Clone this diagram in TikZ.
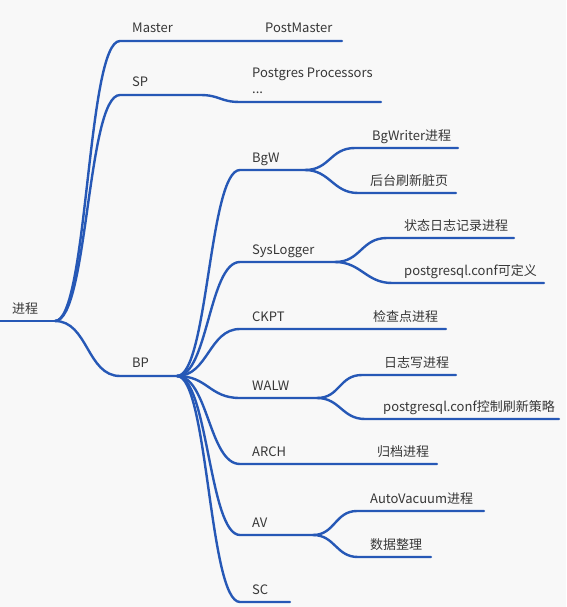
\documentclass[tikz,border=0pt]{standalone}
\usepackage{fontspec}
\setmainfont{Noto Sans CJK SC}
\usepackage{xcolor}
\usepackage{tikz}
\definecolor{cLine}{RGB}{38,88,182}
\definecolor{cText}{RGB}{55,55,55}
\definecolor{cBg}{RGB}{248,248,248}
\tikzset{
	edge/.style ={draw=cLine, line width=2.4pt, line cap=round},
	twig/.style ={out=0, in=180, distance=#1},
	twig/.default=31pt,
	lbl/.style  ={anchor=base west, inner sep=0pt, text=cText},
	lbl2/.style ={anchor=south west, inner sep=0pt, text=cText, align=left},
}

\begin{document}
\begin{tikzpicture}[x=1pt, y=-1pt, font=\fontsize{13}{15}\selectfont]
					\fill[cBg] (0,0) rectangle (566,607);
					\useasboundingbox (0,0) rectangle (566,607);
					% root
					\coordinate (r0) at (0,321);
					\coordinate (r) at (55,321);
					\node[lbl] (nRoot) at (12,313) {进程};
					% first level
					\coordinate (ma) at (120,41);  \coordinate (mb) at (250,41);  \coordinate (mc) at (342,41);
					\coordinate (sa) at (120,95);  \coordinate (sb) at (200,95);  \coordinate (sc) at (240,102); \coordinate (sd) at (381,102);
					\coordinate (ba) at (120,376); \coordinate (bp) at (177,376);
					\node[lbl] (nMaster) at (132,33) {Master};
					\node[lbl] (nPostMaster) at (265,33) {PostMaster};
					\node[lbl] (nSP) at (132,87) {SP};
					\node[lbl2] (nProc) at (252,94) {Postgres Processors\\[1pt]...};
					\node[lbl] (nBP) at (132,367) {BP};
					% second level
					\coordinate (bgA) at (240,170); \coordinate (bgB) at (305,170);
					\coordinate (slA) at (240,262); \coordinate (slB) at (335,262);
					\coordinate (ckA) at (240,329); \coordinate (ckB) at (350,329); \coordinate (ckC) at (446,329);
					\coordinate (waA) at (240,398); \coordinate (waB) at (317,398);
					\coordinate (arA) at (240,464); \coordinate (arB) at (350,464); \coordinate (arC) at (437,464);
					\coordinate (avA) at (240,535); \coordinate (avB) at (313,535);
					\coordinate (scA) at (240,602); \coordinate (scB) at (290,602);
					\node[lbl] (nBgW) at (252,162) {BgW};
					\node[lbl] (nSys) at (252,254) {SysLogger};
					\node[lbl] (nCKPT) at (252,321) {CKPT};
					\node[lbl] (nWALW) at (252,390) {WALW};
					\node[lbl] (nARCH) at (252,456) {ARCH};
					\node[lbl] (nAV) at (252,527) {AV};
					\node[lbl] (nSC) at (252,594) {SC};
					% third level
					\coordinate (bg1a) at (355,148); \coordinate (bg1b) at (458,148);
					\coordinate (bg2a) at (358,193); \coordinate (bg2b) at (456,193);
					\coordinate (sl1a) at (387,238); \coordinate (sl1b) at (514,238);
					\coordinate (sl2a) at (392,283); \coordinate (sl2b) at (544,283);
					\coordinate (wa1a) at (362,375); \coordinate (wa1b) at (456,375);
					\coordinate (wa2a) at (365,419); \coordinate (wa2b) at (559,419);
					\coordinate (av1a) at (357,511); \coordinate (av1b) at (484,511);
					\coordinate (av2a) at (358,557); \coordinate (av2b) at (431,557);
					\node[lbl] (nBg1) at (372,140) {BgWriter进程};
					\node[lbl] (nBg2) at (370,185) {后台刷新脏页};
					\node[lbl] (nSl1) at (404,230) {状态日志记录进程};
					\node[lbl] (nSl2) at (404,275) {postgresql.conf可定义};
					\node[lbl] (nCk1) at (373,321) {检查点进程};
					\node[lbl] (nWa1) at (384,367) {日志写进程};
					\node[lbl] (nWa2) at (383,411) {postgresql.conf控制刷新策略};
					\node[lbl] (nAr1) at (377,456) {归档进程};
					\node[lbl] (nAv1) at (370,503) {AutoVacuum进程};
					\node[lbl] (nAv2) at (370,549) {数据整理};
					% branches
					\draw[edge] (r0) -- (r);
					\draw[edge] (r) to[twig=33pt] (ma) -- (mb) -- (mc);
					\draw[edge] (r) to[twig=33pt] (sa) -- (sb) to[twig=20pt] (sc) -- (sd);
					\draw[edge] (r) to[twig=33pt] (ba) -- (bp);
					\draw[edge] (bp) to[twig] (bgA) -- (bgB);
					\draw[edge] (bp) to[twig] (slA) -- (slB);
					\draw[edge] (bp) to[twig] (ckA) -- (ckB) -- (ckC);
					\draw[edge] (bp) to[twig] (waA) -- (waB);
					\draw[edge] (bp) to[twig] (arA) -- (arB) -- (arC);
					\draw[edge] (bp) to[twig] (avA) -- (avB);
					\draw[edge] (bp) to[twig] (scA) -- (scB);
					\draw[edge] (bgB) to[twig=25pt] (bg1a) -- (bg1b);
					\draw[edge] (bgB) to[twig=25pt] (bg2a) -- (bg2b);
					\draw[edge] (slB) to[twig=26pt] (sl1a) -- (sl1b);
					\draw[edge] (slB) to[twig=26pt] (sl2a) -- (sl2b);
					\draw[edge] (waB) to[twig=23pt] (wa1a) -- (wa1b);
					\draw[edge] (waB) to[twig=23pt] (wa2a) -- (wa2b);
					\draw[edge] (avB) to[twig=22pt] (av1a) -- (av1b);
					\draw[edge] (avB) to[twig=22pt] (av2a) -- (av2b);
				\end{tikzpicture}
\end{document}
